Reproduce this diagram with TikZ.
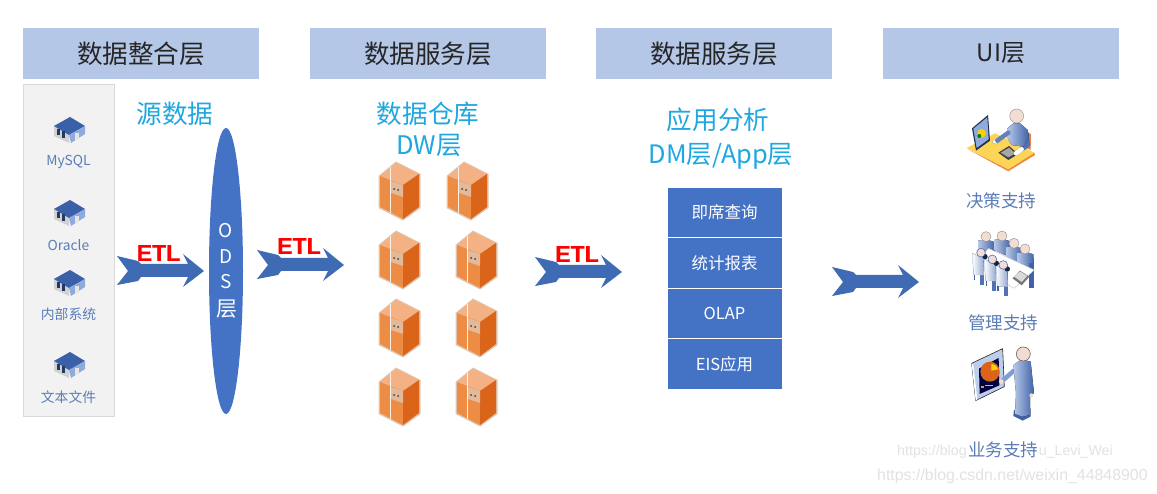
\documentclass[tikz,border=0pt]{standalone}
\usepackage{fontspec}
\setmainfont{Noto Sans CJK SC}
\newfontfamily\arialb[FakeBold=0.6]{Liberation Sans Bold}
\newfontfamily\arialr{Liberation Sans}
\usetikzlibrary{shapes.geometric}
\definecolor{hdr}{HTML}{B4C7E7}
\definecolor{blu}{HTML}{4472C4}
\definecolor{arr}{HTML}{3F6BB5}
\definecolor{cyn}{HTML}{1EA7E1}
\definecolor{lab}{HTML}{5A7DB8}
\definecolor{wm}{HTML}{E2E2E2}
\definecolor{orL}{HTML}{F4B183}
\definecolor{orM}{HTML}{ED8D45}
\definecolor{orD}{HTML}{D9641A}
\definecolor{orE}{HTML}{E0C4AE}
\definecolor{skin}{HTML}{F3DCD2}
\definecolor{body}{HTML}{7F9DD4}
\definecolor{bodyD}{HTML}{3F62A8}
\tikzset{
 x=1pt,y=-1pt,
 header/.style={fill=hdr,minimum width=236pt,minimum height=51pt,inner sep=0pt,font=\fontsize{25.6}{28}\selectfont,text=black!85},
 heading/.style={font=\fontsize{25.6}{30}\selectfont,text=cyn,inner sep=0pt},
 srclabel/.style={font=\fontsize{13.8}{16}\selectfont,text=lab,inner sep=0pt},
 uilabel/.style={font=\fontsize{17.5}{20}\selectfont,text=lab,inner sep=0pt},
 etl/.style={font=\arialb\fontsize{23}{23}\selectfont,text=red,fill=white,inner sep=0pt},
 stackcell/.style={fill=blu,draw=white,line width=0.7pt,minimum width=115pt,minimum height=50.5pt,inner sep=0pt,text=white,font=\fontsize{16.5}{20}\selectfont},
 odslabel/.style={text=white,inner sep=0pt,font=\fontsize{19}{20}\selectfont},
 watermark/.style={text=wm,inner sep=0pt,font=\arialr\fontsize{15.9}{18}\selectfont},
 limb/.style={line width=4.5pt,line cap=round,line join=round},
 cloth/.style={left color=body!55!white,right color=bodyD},
 pics/blockarrow/.style={code={
   \fill[arr] (-44,-15) -- (-33,0) -- (-44,14) -- (-23,10) -- (-20,6) -- (27,6) -- (22,16) -- (43,0) -- (22,-17) -- (27,-7) -- (-20,-7) -- (-23,-10) -- cycle;
 }},
 pics/cabinet/.style={code={
   \fill[orE] (-20.5,-14) -- (-3,-28.5) -- (21.5,-16) -- (21.5,18) -- (4,30.5) -- (-20.5,18) -- cycle;
   \fill[orL] (-19,-14) -- (-3,-27) -- (20,-16) -- (4,-5) -- cycle;
   \fill[orM] (-19,-14) -- (4,-5) -- (4,29) -- (-19,17) -- cycle;
   \fill[orD] (4,-5) -- (20,-16) -- (20,17) -- (4,29) -- cycle;
   \fill[orE!80!orM] (-8,-9) -- (4,-5) -- (4,7) -- (-8,3) -- cycle;
   \draw[white!90!orange,line width=0.9pt] (-9,-23) -- (-9,23);
   \fill[black!75] (-5,-1) circle (1);
   \fill[black!75] (-1,0) circle (1);
 }},
 pics/dbserver/.style={code={
   \fill[black!18] (-15,-5) -- (0,2) -- (0,13) -- (-15,6) -- cycle;
   \fill[blu!85!black] (-15,-4) -- (1,-13) -- (16,-4) -- (0,5) -- cycle;
   \fill[blu!60] (0,5) -- (16,-4) -- (16,4) -- (2,13) -- cycle;
   \fill[blu!50!black] (-12,-1) rectangle (-9,5);
   \fill[blu!50!black] (-7,1) rectangle (-4,8);
   \fill[black!10] (6,3) rectangle (10,10);
 }},
}
\begin{document}
\begin{tikzpicture}
\useasboundingbox[fill=white] (0,0) rectangle (1157,494);
% headers
\node[header] (h1) at (141,53.5) {数据整合层};
\node[header] (h2) at (428,53.5) {数据服务层};
\node[header] (h3) at (714,53.5) {数据服务层};
\node[header,font=\fontsize{24}{28}\selectfont] (h4) at (1001,53.5) {UI层};
% source panel
\node[fill=black!5,draw=black!15,line width=0.7pt,minimum width=91pt,minimum height=332pt,inner sep=0pt] (panel) at (68.5,250) {};
\foreach \y in {130,213,283,365} \pic at (69,\y) {dbserver};
\node[srclabel] (s1) at (68.5,162) {MySQL};
\node[srclabel] (s2) at (68.5,245) {Oracle};
\node[srclabel] (s3) at (68.5,314) {内部系统};
\node[srclabel] (s4) at (68.5,397) {文本文件};
% headings
\node[heading] (t1) at (175,114) {源数据};
\node[heading] (t2) at (428,114) {数据仓库};
\node[heading] (t3) at (429,146) {DW层};
\node[heading] (t4) at (718,120) {应用分析};
\node[heading,font=\fontsize{25.4}{28}\selectfont] (t5) at (721,156) {DM层/App层};
% ODS
\node[ellipse,fill=blu,minimum width=34pt,minimum height=286pt,inner sep=0pt] (ods) at (226,271) {};
\node[odslabel] (o1) at (226,231) {O};
\node[odslabel] (o2) at (226,257) {D};
\node[odslabel] (o3) at (226,282) {S};
\node[odslabel,font=\fontsize{21}{22}\selectfont] (o4) at (227,309) {层};
% arrows
\pic at (161,271) {blockarrow};
\pic at (301,265) {blockarrow};
\pic at (579,272) {blockarrow};
\pic at (876,282) {blockarrow};
\node[etl] (e1) at (158.5,253) {ETL};
\node[etl] (e2) at (299,246) {ETL};
\node[etl] (e3) at (577,254) {ETL};
% cabinets
\foreach \p in {(399,190),(467,190),(399,259),(476,259),(399,327),(476,327),(399,396),(476,396)} \pic at \p {cabinet};
% stack
\node[stackcell] (c1) at (724.5,212.25) {即席查询};
\node[stackcell] (c2) at (724.5,262.75) {统计报表};
\node[stackcell] (c3) at (724.5,313.25) {OLAP};
\node[stackcell] (c4) at (724.5,363.75) {EIS应用};
% UI icons
\begin{scope}[shift={(940,100)},x=0.3333pt,y=-0.3333pt]
  % icon 1: person at a desk
  \fill[orD!80] (262,95) -- (273,103) -- (272,150) -- (262,145) -- cycle;
  \fill[orM] (80,146) -- (205,214) -- (285,165) -- (283,158) -- (205,206) -- cycle;
  \fill[yellow!55!orange!65] (80,144) -- (165,100) -- (283,158) -- (205,208) -- cycle;
  \fill[black!60!blu] (96,85) -- (144,45) -- (150,122) -- (108,152) -- cycle;
  \fill[blu!60] (100,86) -- (142,52) -- (146,118) -- (110,144) -- cycle;
  \fill[yellow!70!orange] (125,100) circle (13);
  \fill[green!50!black] (118,108) circle (6);
  \fill[white,draw=black!40,line width=0.3pt] (167,125) ellipse (10 and 7);
  \fill[black!75] (175,158) -- (207,138) -- (235,162) -- (205,180) -- cycle;
  \fill[black!35] (182,158) -- (207,143) -- (226,160) -- (205,172) -- cycle;
  \draw[limb,bodyD!90] (258,100) -- (264,135) -- (228,160);
  \draw[limb,white] (245,148) -- (228,160);
  \fill[cloth] (220,70) -- (202,85) -- (200,110) -- (215,135) -- (250,140) -- (267,115) -- (263,90) -- (240,70) -- cycle;
  \draw[limb,bodyD!80] (205,98) -- (172,122);
  \fill[skin,draw=black!45,line width=0.4pt] (230,48) circle (21);
  % icon 2: meeting
  \foreach \hx/\hy in {138/410,186/408,222/430,255/447}{
    \fill[cloth] (\hx-24,\hy+12) -- (\hx,\hy+8) -- (\hx+25,\hy+16) -- (\hx+27,\hy+65) -- (\hx-24,\hy+42) -- cycle;
    \fill[skin,draw=black!45,line width=0.4pt] (\hx,\hy) circle (15);
  }
  \fill[bodyD] (268,490) rectangle (282,565);
  \fill[white,draw=black!25,line width=0.4pt] (145,445) -- (283,510) -- (222,565) -- (105,495) -- cycle;
  \foreach \cx/\cy/\ch in {97/460/65,133/478/65,168/497/62}{
    \fill[bodyD!90] (\cx+24,\cy+20) rectangle (\cx+36,\cy+\ch+30);
    \fill[left color=white,right color=bodyD!55,draw=blu!40,line width=0.4pt] (\cx,\cy) -- (\cx+32,\cy+14) -- (\cx+35,\cy+\ch) -- (\cx+4,\cy+\ch) -- cycle;
    \fill[bodyD] (\cx+4,\cy+\ch) rectangle (\cx+8,\cy+\ch+15);
  }
  \foreach \hx/\hy in {123/458,157/478,190/495}{
    \fill[black!70!blu] (\hx+12,\hy+12) circle (8);
    \fill[skin,draw=bodyD,line width=0.5pt] (\hx,\hy) circle (13);
  }
  \fill[black!55] (218,535) -- (240,512) -- (268,530) -- (245,556) -- cycle;
  \fill[black!15] (222,530) -- (240,514) -- (262,528) -- (245,546) -- cycle;
  \draw[black!50,line width=0.4pt] (225,538) -- (245,548) -- (264,533);
  % icon 3: presenter
  \fill[blu!35,draw=black!85,line width=0.6pt] (95,790) -- (188,746) -- (193,860) -- (107,902) -- cycle;
  \fill[white] (95,790) -- (100,795) -- (112,898) -- (107,902) -- cycle;
  \fill[blue!25!black] (117,806) -- (176,774) -- (178,856) -- (119,882) -- cycle;
  \fill[orD] (150,815) ellipse (29 and 30);
  \fill[yellow!70!orange] (154,812) -- (154,792) .. controls (165,793) and (172,800) .. (175,808) -- cycle;
  \fill[blu!50] (135,855) rectangle (160,858);
  \fill[orM] (123,858) rectangle (131,864);
  \draw[limb,body] (222,812) -- (190,840);
  \fill[skin] (184,845) circle (7);
  \fill[bodyD] (222,930) -- (272,925) -- (272,950) -- (248,962) -- (220,948) -- cycle;
  \fill[cloth] (220,795) -- (245,778) -- (272,785) -- (282,880) -- (270,882) -- (270,945) -- (248,950) -- (225,942) -- (228,880) -- cycle;
  \fill[skin] (274,886) circle (6);
  \fill[skin,draw=black!60,line width=0.6pt] (250,762) circle (21);
\end{scope}
% watermarks
\node[watermark,font=\arialr\fontsize{14.2}{16}\selectfont,anchor=west] (w1) at (897,452) {https://blog};
\node[watermark,font=\arialr\fontsize{14.2}{16}\selectfont,anchor=east] (w2) at (1113,452) {u\_Levi\_Wei};
\node[watermark,anchor=west] (w3) at (877,476) {https://blog.csdn.net/weixin\_44848900};
% UI labels
\node[uilabel] (u1) at (1001,201) {决策支持};
\node[uilabel] (u2) at (1003,323) {管理支持};
\node[uilabel] (u3) at (1003,450) {业务支持};
\end{tikzpicture}
\end{document}
